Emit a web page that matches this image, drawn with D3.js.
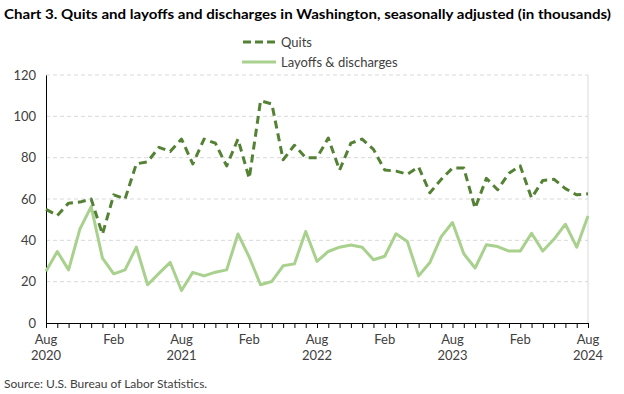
<!DOCTYPE html>
<html lang="en">
<head>
<meta charset="utf-8">
<title>Chart 3. Quits and layoffs and discharges in Washington</title>
<script src="https://cdn.jsdelivr.net/npm/d3@7"></script>
<style>
  body { margin: 0; background: #fff; }
  text { font-family: Lato, "Open Sans", sans-serif; fill: #404040; }
</style>
</head>
<body>
<svg width="624" height="394"></svg>
<script>
// monthly, Aug 2020 .. Aug 2024
var months = ["Aug","Sep","Oct","Nov","Dec","Jan","Feb","Mar","Apr","May","Jun","Jul"];
var startYear = 2020;

var quits = [55, 52, 58, 58.5, 60, 43, 62, 60, 77, 78, 85, 83, 89, 77, 89, 87, 76,
  89, 70, 107.5, 106, 79, 86, 80, 80, 89.5, 74, 87, 89, 84, 74, 73.5,
  72, 75.5, 63, 69.5, 75, 75, 55.5, 70, 64.5, 72.5, 76, 60.5, 69, 69.5, 65, 62, 62.5];

var layoffs = [25, 34.6, 25.7, 45.4, 56.3, 31.4, 23.8, 25.7, 36.7, 18.5, 24, 29.3, 15.7,
  24.5, 22.8, 24.6, 25.7, 43.1, 31.9, 18.5, 20.1, 27.7, 28.6, 44.3, 29.8, 34.6, 36.7,
  37.7, 36.7, 30.6, 32.3, 43.2, 39.4, 22.8, 29.3, 41.8, 48.6, 33.5, 26.6, 37.9, 37,
  34.8, 34.8, 43.4, 34.8, 40.6, 47.8, 36.7, 51.8];

var yTicks = [0, 20, 40, 60, 80, 100, 120];

var margin = {top: 75, right: 36, bottom: 71, left: 46},
    width = 624 - margin.left - margin.right,
    height = 394 - margin.top - margin.bottom;

var svg = d3.select("svg");

// title
svg.append("text")
    .attr("x", 4).attr("y", 19)
    .attr("textLength", 607).attr("lengthAdjust", "spacingAndGlyphs")
    .style("font-weight", "bold").style("font-size", "14px").style("fill", "#000")
    .text("Chart 3. Quits and layoffs and discharges in Washington, seasonally adjusted (in thousands)");

var g = svg.append("g")
    .attr("transform", "translate(" + margin.left + "," + margin.top + ")");

var x = d3.scaleLinear().domain([0, quits.length - 1]).range([0, width]);
var y = d3.scaleLinear().domain([0, 120]).range([height, 0]);

// gridlines
g.append("g").selectAll("line")
    .data(yTicks.filter(function(d) { return d > 0; }))
  .enter().append("line")
    .attr("x1", 0).attr("x2", width)
    .attr("y1", function(d) { return y(d); })
    .attr("y2", function(d) { return y(d); })
    .attr("stroke", "#d9d9d9")
    .attr("stroke-dasharray", "4,3");

// right border
g.append("line")
    .attr("x1", width).attr("x2", width)
    .attr("y1", 0).attr("y2", height)
    .attr("stroke", "#d9d9d9");

// y axis
var yAxis = g.append("g")
    .call(d3.axisLeft(y).tickValues(yTicks).tickSize(0).tickPadding(10));
yAxis.select(".domain").attr("stroke", "#000");
yAxis.selectAll("text").style("font-size", "13px").style("fill", "#404040").style("font-family", "Lato, sans-serif");

// x axis, a tick per month
var xAxis = g.append("g")
    .attr("transform", "translate(0," + height + ")")
    .call(d3.axisBottom(x).tickValues(d3.range(quits.length)).tickSize(5).tickFormat(""));
xAxis.select(".domain").attr("stroke", "#000");
xAxis.selectAll(".tick line").attr("stroke", "#000");

// month / year labels every 6 months
var labelIdx = d3.range(0, quits.length, 6);
g.append("g").selectAll("text")
    .data(labelIdx)
  .enter().append("text")
    .attr("x", function(d) { return x(d); })
    .attr("y", height + 21)
    .attr("text-anchor", "middle")
    .style("font-size", "13px")
    .text(function(d) { return months[d % 12]; });

g.append("g").selectAll("text")
    .data(labelIdx.filter(function(d) { return d % 12 === 0; }))
  .enter().append("text")
    .attr("x", function(d) { return x(d); })
    .attr("y", height + 37)
    .attr("text-anchor", "middle")
    .style("font-size", "13px")
    .text(function(d) { return startYear + d / 12; });

var line = d3.line()
    .x(function(d, i) { return x(i); })
    .y(function(d) { return y(d); });

g.append("path")
    .datum(layoffs)
    .attr("fill", "none")
    .attr("stroke", "#a9d18e")
    .attr("stroke-width", 3)
    .attr("stroke-linejoin", "round")
    .attr("d", line);

g.append("path")
    .datum(quits)
    .attr("fill", "none")
    .attr("stroke", "#548235")
    .attr("stroke-width", 3)
    .attr("stroke-dasharray", "8,5")
    .attr("stroke-linejoin", "round")
    .attr("d", line);

// legend
var legend = svg.append("g");
legend.append("line")
    .attr("x1", 243).attr("x2", 276).attr("y1", 42).attr("y2", 42)
    .attr("stroke", "#548235").attr("stroke-width", 3).attr("stroke-dasharray", "8,4");
legend.append("text").attr("x", 281).attr("y", 46.5).style("font-size", "13px").text("Quits");
legend.append("line")
    .attr("x1", 242).attr("x2", 276).attr("y1", 62).attr("y2", 62)
    .attr("stroke", "#a9d18e").attr("stroke-width", 3);
legend.append("text").attr("x", 281).attr("y", 66.5).style("font-size", "13px").text("Layoffs & discharges");

// source
svg.append("text")
    .attr("x", 4).attr("y", 388)
    .style("font-size", "12px")
    .text("Source: U.S. Bureau of Labor Statistics.");
</script>
</body>
</html>
